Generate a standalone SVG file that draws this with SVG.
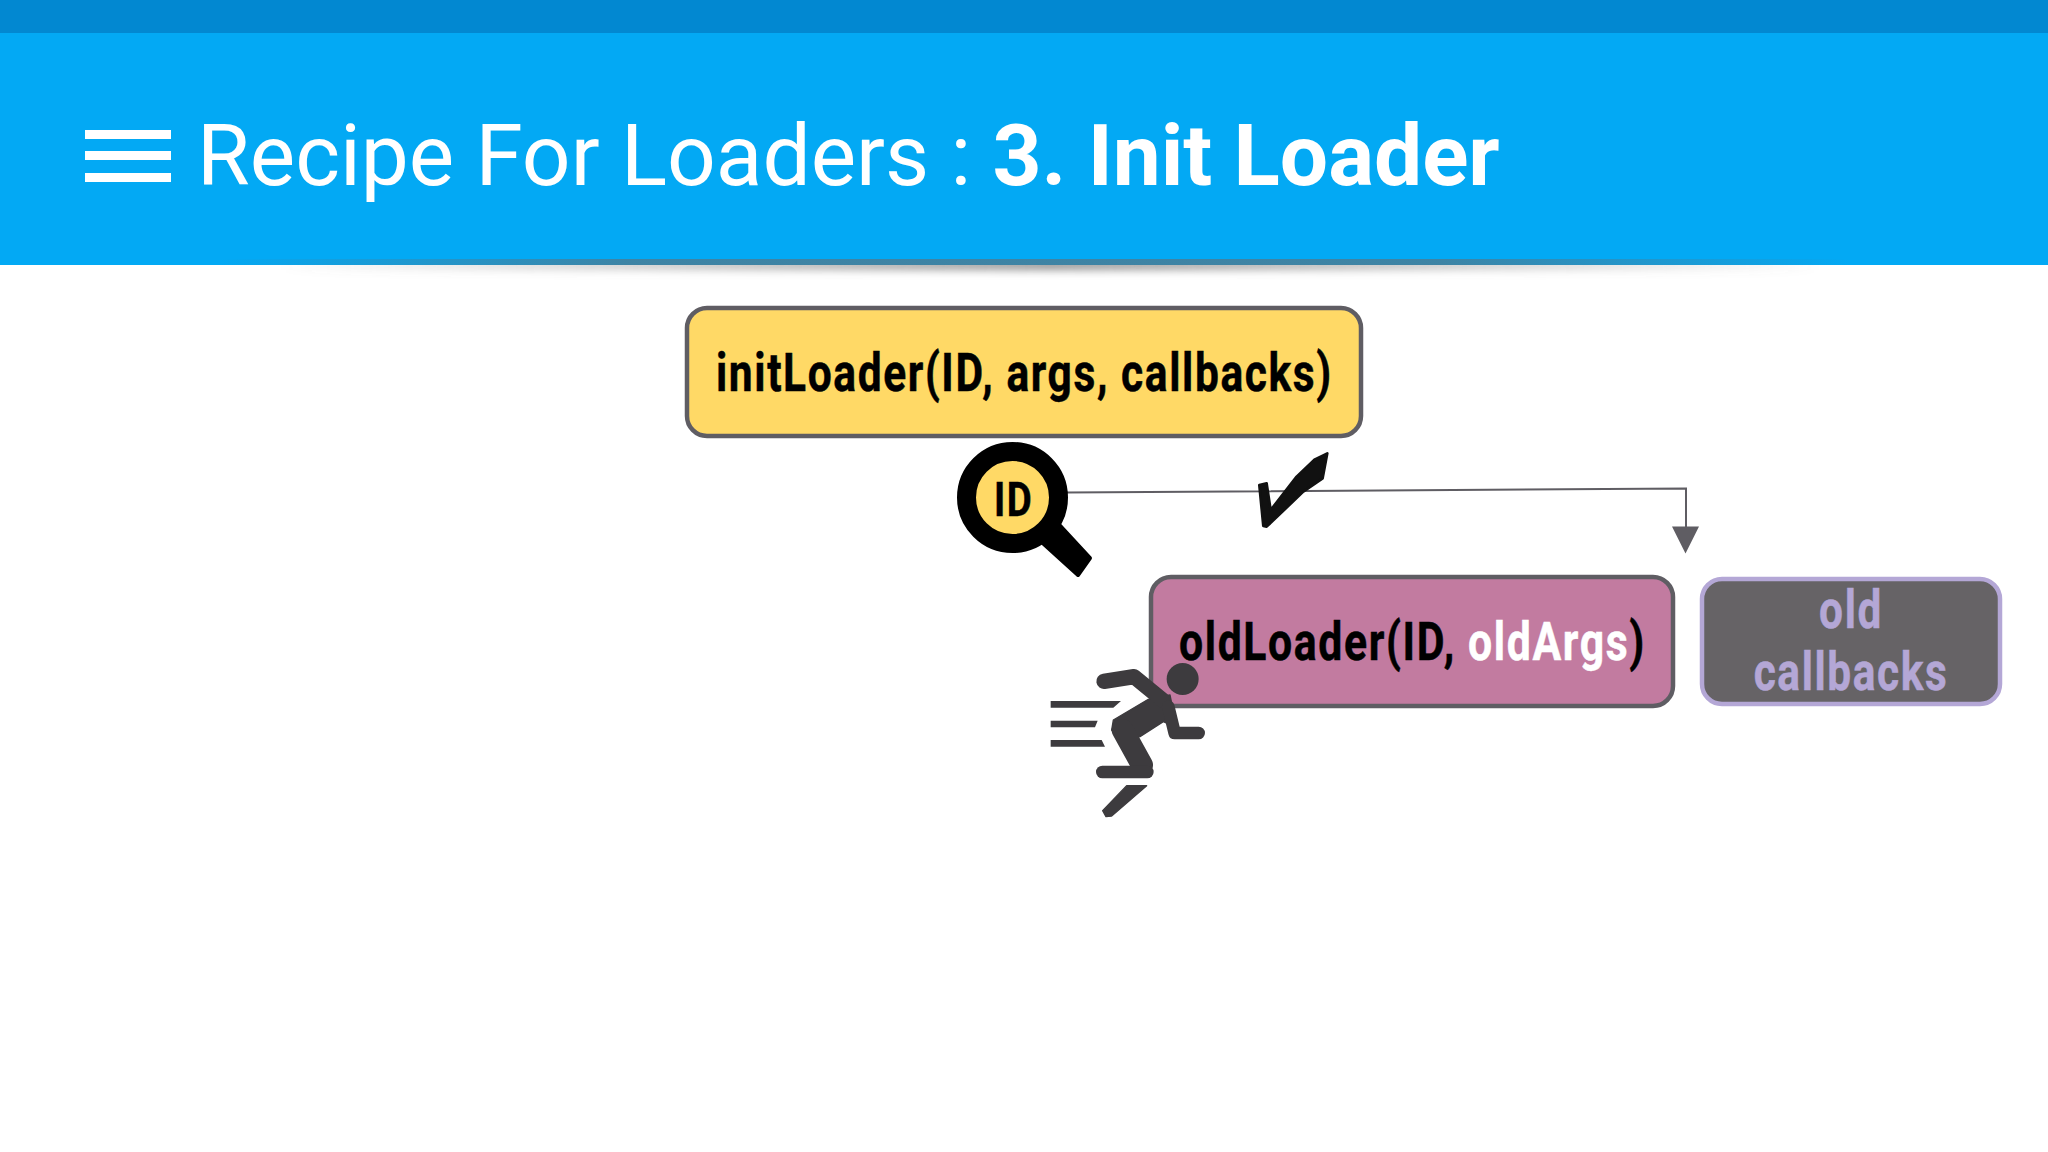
<svg xmlns="http://www.w3.org/2000/svg" width="2048" height="1152" viewBox="0 0 2048 1152">
<style>
text{font-family:Roboto,"Liberation Sans",sans-serif}
.b{font-weight:700;font-size:53px;letter-spacing:2px;fill:#000;stroke:#000;stroke-width:.5}
.box{stroke-width:4.5}
</style>
<defs>
<linearGradient id="edge" x1="0" x2="1" y1="0" y2="0">
<stop offset="0" stop-color="#5f6f78" stop-opacity="0"/><stop offset=".25" stop-color="#5f6f78" stop-opacity=".8"/><stop offset=".75" stop-color="#5f6f78" stop-opacity=".8"/><stop offset="1" stop-color="#5f6f78" stop-opacity="0"/>
</linearGradient>
<linearGradient id="sh" x1="0" x2="1" y1="0" y2="0">
<stop offset="0" stop-color="#777" stop-opacity="0"/><stop offset=".5" stop-color="#777" stop-opacity=".8"/><stop offset="1" stop-color="#777" stop-opacity="0"/>
</linearGradient>
<filter id="bl" x="-5%" y="-300%" width="110%" height="700%"><feGaussianBlur stdDeviation="4"/></filter>
</defs>
<rect width="2048" height="1152" fill="#fff"/>
<g id="header">
<rect x="280" y="260" width="1540" height="10" fill="url(#sh)" filter="url(#bl)"/>
<rect width="2048" height="265" fill="#03a9f4"/>
<rect width="2048" height="33" fill="#0288d1"/>
<rect x="220" y="259" width="1630" height="6" fill="url(#edge)" opacity=".8"/>
<rect x="85" y="130" width="86" height="9" fill="#fff"/>
<rect x="85" y="151" width="86" height="9" fill="#fff"/>
<rect x="85" y="173" width="86" height="9" fill="#fff"/>
<text x="197" y="184.500" font-size="85.600" fill="#fff">Recipe For Loaders : <tspan font-weight="700">3. Init Loader</tspan></text>
</g>
<g id="connectors" fill="none" stroke="#5f5d63">
<path d="M1066 492.500 L1686 488.500 V528" stroke-width="2"/>
<path d="M1672 526.500 H1699 L1685.500 553.500 Z" fill="#5f5d63" stroke="none"/>
</g>
<g id="initLoader">
<rect class="box" x="687" y="308" width="674" height="128" rx="20" fill="#ffd966" stroke="#5f5d63"/>
<text class="b" transform="translate(716 391) scale(.802 1)">initLoader(ID, args, callbacks)</text>
</g>
<g id="magnifier">
<path d="M1035 536 L1053 518 L1090 558 L1078 575 Z" fill="#000" stroke="#000" stroke-width="4" stroke-linejoin="round"/>
<circle cx="1012.500" cy="497.500" r="46" fill="#ffd966" stroke="#000" stroke-width="19"/>
<text class="b" transform="translate(994 516) scale(.8 1)" style="font-size:48px">ID</text>
</g>
<g id="check" transform="translate(920 420) scale(.3333)">
<path d="M1018 195 L1040 190 L1052 270 L1130 170 L1185 118 L1222 100 L1208 175 L1150 215 L1040 320 L1030 318 Z" fill="#111" stroke="#111" stroke-width="8" stroke-linejoin="round"/>
</g>
<g id="oldLoader">
<rect class="box" x="1151" y="577" width="522" height="129" rx="20" fill="#c27ba0" stroke="#5f5d63"/>
<text class="b" transform="translate(1179 660) scale(.807 1)">oldLoader(ID, <tspan style="fill:#fff;stroke:#fff">oldArgs</tspan>)</text>
</g>
<g id="oldCallbacks">
<rect x="1702" y="579" width="298" height="125" rx="20" fill="#666366" stroke="#b4a7d6" stroke-width="4.500"/>
<text class="b" text-anchor="middle" transform="translate(1851 628) scale(.8 1)" style="fill:#b4a7d6;stroke:#b4a7d6">old</text>
<text class="b" text-anchor="middle" transform="translate(1851 690) scale(.8 1)" style="fill:#b4a7d6;stroke:#b4a7d6">callbacks</text>
</g>
<g id="runner" transform="translate(1020 640) scale(.3333)" fill="#3d3b3e">
<circle cx="488" cy="117" r="48"/>
<path d="M385 178 L450 165 L470 262 L430 245 L360 290 L300 305 L275 270 L280 240 Z" stroke="#3d3b3e" stroke-width="4" stroke-linejoin="round"/>
<g fill="none" stroke="#3d3b3e" stroke-linecap="round" stroke-linejoin="round">
<path stroke-width="46" d="M252 124 L342 110 L430 182"/>
<path stroke-width="66" d="M308 270 L366 375"/>
<path stroke-width="38" d="M247 396 H382"/>
<path stroke-width="38" d="M445 200 L464 279 H536"/>
</g>
<path d="M320 437 L380 437 L275 528 L258 530 L248 512 Z" stroke="#3d3b3e" stroke-width="4" stroke-linejoin="round"/>
<path d="M92 183 H303 L280 203 H92 Z M92 242 H233 L225 262 H92 Z M92 300 H245 L255 320 H92 Z"/>
</g>
</svg>
